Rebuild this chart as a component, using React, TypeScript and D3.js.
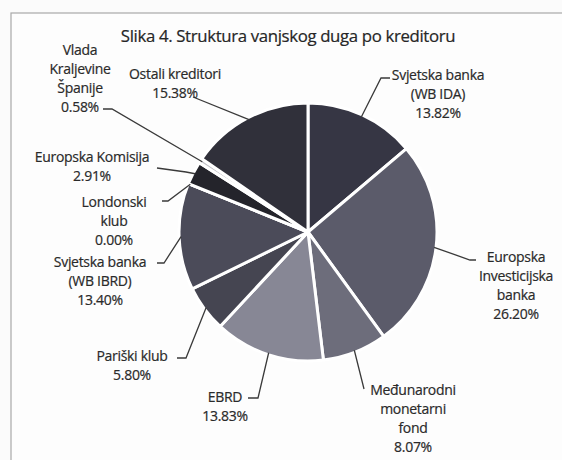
import * as d3 from "d3";

const TITLE = "Slika 4. Struktura vanjskog duga po kreditoru";

// creditors, clockwise from 12 o'clock
const creditors = [
  "WB IDA",
  "EIB",
  "MMF",
  "EBRD",
  "Pariški klub",
  "WB IBRD",
  "Londonski klub",
  "Europska Komisija",
  "Vlada Španije",
  "Ostali kreditori",
];
const shares = [13.82, 26.2, 8.07, 13.83, 5.8, 13.4, 0.0, 2.91, 0.58, 15.38];
const labelLines = [
  ["Svjetska banka", "(WB IDA)", "13.82%"],
  ["Europska", "Investicijska", "banka", "26.20%"],
  ["Međunarodni", "monetarni", "fond", "8.07%"],
  ["EBRD", "13.83%"],
  ["Pariški klub", "5.80%"],
  ["Svjetska banka", "(WB IBRD)", "13.40%"],
  ["Londonski", "klub", "0.00%"],
  ["Europska Komisija", "2.91%"],
  ["Vlada", "Kraljevine", "Španije", "0.58%"],
  ["Ostali kreditori", "15.38%"],
];
const sliceColors = [
  "#363644", "#5b5b6a", "#6d6d7b", "#878795", "#454551",
  "#4b4b59", "#4b4b59", "#24242b", "#c4c4ca", "#30303a",
];

// label layout: text centre x, first baseline y, leader elbow and tail
const labelLayout = [
  { x: 438, y: 80, elbow: [381, 78], tail: [390, 78] },
  { x: 516, y: 262, elbow: [470, 260], tail: [476, 260] },
  { x: 413, y: 395, elbow: [364, 389], tail: [364, 389] },
  { x: 225, y: 402, elbow: [258, 398], tail: [248, 398] },
  { x: 132, y: 361, elbow: [186, 358], tail: [177, 358] },
  { x: 100, y: 267, elbow: [164, 263], tail: [157, 263] },
  { x: 114, y: 207, elbow: [168, 201], tail: [162, 201] },
  { x: 92, y: 162, elbow: [186, 172], tail: [157, 168] },
  { x: 80, y: 55, elbow: [112, 109], tail: [103, 109] },
  { x: 175, y: 79, elbow: [193, 97], tail: [193, 97] },
];

const W = 562;
const H = 460;
const CX = 308;
const CY = 232;
const R = 129;
const LINE_H = 19;
const FONT = "'Open Sans', 'DejaVu Sans', sans-serif";

export default function App() {
  const data = creditors.map((name, i) => ({ name, value: shares[i], i }));
  const pie = d3.pie<any>().sort(null).value((d) => d.value);
  const arcs = pie(data);
  const arcGen = d3.arc<any>().innerRadius(0).outerRadius(R);
  const edgeGen = d3.arc<any>().innerRadius(R - 2).outerRadius(R - 2);

  return (
    <svg
      width={W}
      height={H}
      style={{ position: "absolute", left: 0, top: 0, background: "#fbfbfb" }}
    >
      <rect x={11} y={13} width={W} height={H} fill="#fdfdfd" stroke="#a8a8a8" strokeWidth={1.2} />
      <text
        x={288}
        y={42}
        textAnchor="middle"
        fontFamily={FONT}
        fontSize={16.8}
        fill="#262626"
        stroke="#262626"
        strokeWidth={0.2}
        letterSpacing={-0.35}
      >
        {TITLE}
      </text>
      <g transform={`translate(${CX},${CY})`}>
        {arcs.map((a, i) => (
          <path key={i} d={arcGen(a) || ""} fill={sliceColors[i]} stroke="#ffffff" strokeWidth={3} strokeLinejoin="round" />
        ))}
      </g>
      {arcs.map((a, i) => {
        const [ex, ey] = edgeGen.centroid(a);
        const l = labelLayout[i];
        const pts = [[CX + ex, CY + ey], l.elbow, l.tail];
        return (
          <polyline
            key={i}
            points={pts.map((p) => p.join(",")).join(" ")}
            fill="none"
            stroke="#3a3a3a"
            strokeWidth={1.3}
          />
        );
      })}
      {labelLines.map((lines, i) => (
        <text
          key={i}
          textAnchor="middle"
          fontFamily={FONT}
          fontSize={14}
          fill="#2a2a2a"
          stroke="#2a2a2a"
          strokeWidth={0.2}
          letterSpacing={-0.3}
        >
          {lines.map((s, j) => (
            <tspan key={j} x={labelLayout[i].x} y={labelLayout[i].y + j * LINE_H}>
              {s}
            </tspan>
          ))}
        </text>
      ))}
    </svg>
  );
}
